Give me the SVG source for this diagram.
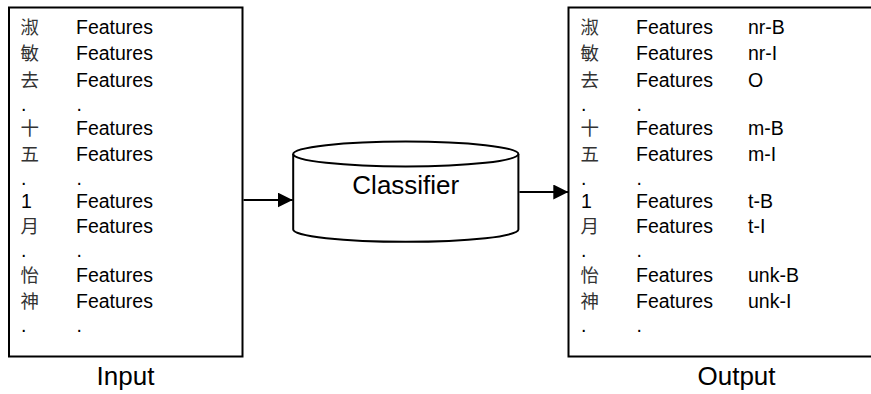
<svg xmlns="http://www.w3.org/2000/svg" width="871" height="394" viewBox="0 0 871 394">
<defs>
<style>
.box{fill:#fff;stroke:#000;stroke-width:2}
.t{font-family:"Liberation Sans",Arial,"Noto Sans CJK SC",sans-serif;font-size:19.5px;fill:#000}
.c{font-family:"Noto Sans CJK SC","Noto Sans CJK TC",sans-serif;font-size:18.5px;fill:#333}
.lbl{font-family:"Liberation Sans",Arial,sans-serif;font-size:26px;fill:#000;text-anchor:middle}
.conn{stroke:#000;stroke-width:2;fill:none}
</style>
<marker id="ah" markerWidth="16" markerHeight="16" refX="15" refY="7.5" orient="auto" markerUnits="userSpaceOnUse">
<path d="M0,0 L15,7.5 L0,15 Z" fill="#000"/>
</marker>
</defs>
<rect width="871" height="394" fill="#fff"/>
<g id="input">
<rect class="box" x="9" y="7.5" width="233.5" height="349"/>
<text class="c" x="20.5" y="34.3">淑</text><text class="t" x="76" y="34.3">Features</text>
<text class="c" x="20.5" y="60.3">敏</text><text class="t" x="76" y="60.3">Features</text>
<text class="c" x="20.5" y="86.5">去</text><text class="t" x="76" y="86.5">Features</text>
<text class="t" x="21" y="110.8">.</text><text class="t" x="76.5" y="110.8">.</text>
<text class="c" x="20.5" y="135">十</text><text class="t" x="76" y="135">Features</text>
<text class="c" x="20.5" y="161.2">五</text><text class="t" x="76" y="161.2">Features</text>
<text class="t" x="21" y="185.3">.</text><text class="t" x="76.5" y="185.3">.</text>
<text class="t" x="21" y="208.3">1</text><text class="t" x="76" y="208.3">Features</text>
<text class="c" x="20.5" y="232.7">月</text><text class="t" x="76" y="232.7">Features</text>
<text class="t" x="21" y="257.3">.</text><text class="t" x="76.5" y="257.3">.</text>
<text class="c" x="20.5" y="281.7">怡</text><text class="t" x="76" y="281.7">Features</text>
<text class="c" x="20.5" y="307.7">神</text><text class="t" x="76" y="307.7">Features</text>
<text class="t" x="21" y="332.3">.</text><text class="t" x="76.5" y="332.3">.</text>
</g>
<g id="classifier">
<path class="box" d="M293.2,154 L293.2,229.5 A112.6,12.3 0 0 0 518.4,229.5 L518.4,154"/>
<ellipse class="box" cx="405.8" cy="154" rx="112.6" ry="12.5"/>
<text class="lbl" x="405.8" y="194">Classifier</text>
</g>
<g id="output">
<rect class="box" x="568.5" y="7.5" width="320" height="349"/>
<text class="c" x="580.5" y="34.3">淑</text><text class="t" x="636" y="34.3">Features</text><text class="t" x="748" y="34.3">nr-B</text>
<text class="c" x="580.5" y="60.3">敏</text><text class="t" x="636" y="60.3">Features</text><text class="t" x="748" y="60.3">nr-I</text>
<text class="c" x="580.5" y="86.5">去</text><text class="t" x="636" y="86.5">Features</text><text class="t" x="748" y="86.5">O</text>
<text class="t" x="581" y="110.8">.</text><text class="t" x="636.5" y="110.8">.</text>
<text class="c" x="580.5" y="135">十</text><text class="t" x="636" y="135">Features</text><text class="t" x="748" y="135">m-B</text>
<text class="c" x="580.5" y="161.2">五</text><text class="t" x="636" y="161.2">Features</text><text class="t" x="748" y="161.2">m-I</text>
<text class="t" x="581" y="185.3">.</text><text class="t" x="636.5" y="185.3">.</text>
<text class="t" x="581" y="208.3">1</text><text class="t" x="636" y="208.3">Features</text><text class="t" x="748" y="208.3">t-B</text>
<text class="c" x="580.5" y="232.7">月</text><text class="t" x="636" y="232.7">Features</text><text class="t" x="748" y="232.7">t-I</text>
<text class="t" x="581" y="257.3">.</text><text class="t" x="636.5" y="257.3">.</text>
<text class="c" x="580.5" y="281.7">怡</text><text class="t" x="636" y="281.7">Features</text><text class="t" x="748" y="281.7">unk-B</text>
<text class="c" x="580.5" y="307.7">神</text><text class="t" x="636" y="307.7">Features</text><text class="t" x="748" y="307.7">unk-I</text>
<text class="t" x="581" y="332.3">.</text><text class="t" x="636.5" y="332.3">.</text>
</g>
<g id="connectors">
<line class="conn" x1="243.5" y1="200" x2="292.7" y2="200" marker-end="url(#ah)"/>
<line class="conn" x1="519.4" y1="192" x2="568.3" y2="192" marker-end="url(#ah)"/>
</g>
<g id="labels">
<text class="lbl" x="125.5" y="385">Input</text>
<text class="lbl" x="736.5" y="385">Output</text>
</g>
</svg>
